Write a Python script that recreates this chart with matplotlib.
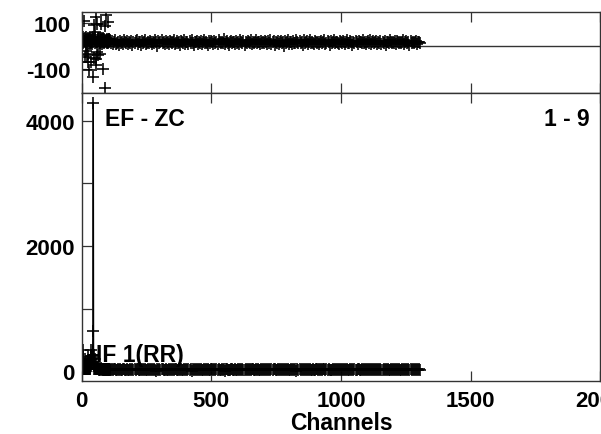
import numpy as np
import matplotlib
matplotlib.use("Agg")
import matplotlib.pyplot as plt
from matplotlib.ticker import FixedLocator, FixedFormatter

# ---------------- data ----------------
# channels 0..109 (one per channel), then the tail sampled every 4 channels from 112
counts_head = [
    30, 28, 35, 25, 40, 32, 337, 38, 27, 45,
    60, 33, 200, 41, 29, 36, 55, 28, 160, 34,
    42, 30, 48, 37, 230, 31, 44, 39, 52, 35,
    180, 40, 33, 47, 58, 90, 337, 120, 190, 150,
    240, 130, 210, 260, 640, 4283, 260, 75, 150, 40,
    190, 35, 52, 44, 120, 38, 30, 47, 33, 41,
    36, 29, 44, 31, 38, 27, 42, 34, 25, 39,
    30, 37, 26, 43, 32, 28, 35, 22, 40, 31,
    27, 36, 24, 33, 29, 38, 21, 30, 26, 34,
    23, 31, 28, 19, 35, 25, 32, 27, 20, 33,
    26, 29, 22, 31, 24, 36, 18, 28, 25, 30,
]
counts_tail = [
    22, 31, 18, 27, 35, 14, 25, 30, 19, 38, 24, 12, 29, 33, 21, 16, 36, 26, 20, 28,
    15, 34, 23, 30, 11, 27, 37, 19, 25, 32, 17, 29, 22, 39, 13, 26, 31, 20, 35, 24,
    28, 18, 33, 21, 9, 30, 25, 36, 16, 27, 34, 22, 12, 31, 26, 19, 38, 23, 29, 14,
    32, 20, 27, 35, 17, 24, 30, 11, 37, 21, 26, 33, 18, 28, 15, 31, 23, 36, 10, 29,
    25, 34, 19, 27, 22, 38, 14, 30, 26, 17, 33, 21, 29, 12, 35, 24, 20, 31, 27, 16,
    36, 23, 28, 13, 32, 25, 19, 34, 21, 30, 8, 27, 37, 22, 26, 15, 33, 29, 18, 24,
    31, 14, 26, 35, 20, 28, 23, 39, 17, 25, 32, 11, 29, 22, 34, 19, 27, 36, 24, 13,
    30, 21, 33, 18, 26, 37, 15, 28, 24, 31, 20, 35, 12, 27, 23, 32, 17, 29, 38, 22,
    19, 34, 25, 30, 16, 27, 21, 36, 13, 29, 24, 33, 20, 26, 39, 18, 31, 23, 28, 10,
    35, 22, 27, 17, 32, 25, 30, 14, 37, 21, 28, 19, 34, 24, 12, 31, 26, 20, 33, 29,
    16, 30, 23, 36, 19, 27, 33, 11, 28, 25, 38, 21, 26, 15, 32, 24, 29, 18, 35, 22,
    27, 13, 31, 24, 34, 20, 29, 17, 36, 23, 26, 32, 14, 30, 21, 37, 25, 19, 28, 33,
    18, 26, 35, 22, 29, 12, 31, 24, 38, 20, 27, 16, 33, 25, 30, 21, 36, 15, 28, 23,
    32, 19, 25, 37, 14, 28, 22, 34, 26, 17, 30, 24, 39, 20, 27, 11, 31, 23, 35, 18,
    26, 33, 21, 29, 16, 36, 24, 30, 13, 27, 22, 35, 19, 28, 25, 32, 17, 31, 24,
]
resid_head = [
    25, 35, 8, -68, 30, 18, 40, 12, 28, 20,
    106, 22, -47, 15, 33, -20, 26, 10, 38, 5,
    -40, 30, 17, -33, 24, 36, -68, 12, 28, -103,
    20, 34, 8, 22, 31, 14, -68, 27, 18, 35,
    10, 25, -132, 30, 16, 38, -50, 21, 29, 88,
    13, 32, 60, 24, 19, 123, -81, -54, 94, 27,
    -25, 15, 33, 20, -40, 28, 11, 36, 22, 17,
    30, -34, 14, 26, 35, 95, 18, 24, 9, 31,
    21, 28, 16, 33, -97, 12, 25, 19, 30, 23,
    86, 15, -178, 27, 131, 20, 11, 29, 17, 24,
    102, 18, 26, 13, 30, 22, 16, 28, 20, 25,
]
resid_tail = [
    12, 20, 7, 16, 24, 10, 14, 19, 5, 22, 13, 17, 9, 26, 15, 11, 21, 8, 18, 14,
    23, 6, 16, 12, 20, 27, 10, 15, 18, 4, 21, 13, 17, 25, 9, 14, 19, 11, 22, 16,
    8, 18, 13, 24, 15, 2, 20, 11, 17, 26, 12, 16, 7, 21, 14, 19, 10, 23, 15, 12,
    17, 25, 9, 14, 21, 11, 18, 6, 22, 15, 13, 27, 10, 19, 16, 8, 20, 14, 24, 12,
    5, 19, 15, 23, 10, 17, 13, 21, 8, 16, 26, 12, 18, 14, 3, 20, 11, 22, 16, 9,
    21, 13, 17, 7, 24, 15, 11, 19, 14, 28, 10, 16, 20, 12, 6, 18, 23, 13, 15, 19,
    10, 22, 14, 18, 9, 25, 16, 12, 20, 4, 17, 13, 21, 15, 11, 24, 8, 19, 14, 17,
    26, 12, 19, 15, 7, 21, 14, 18, 11, 23, 16, 9, 20, 13, 27, 10, 17, 22, 5, 15,
    14, 20, 9, 17, 23, 12, 16, 1, 21, 13, 18, 25, 10, 15, 19, 8, 22, 14, 11, 24,
    16, 11, 21, 14, 18, 6, 24, 13, 17, 20, 9, 15, 26, 12, 19, 14, 10, 23, 16, 13,
    19, 8, 15, 22, 12, 17, 27, 10, 14, 20, 16, 5, 21, 13, 18, 24, 11, 15, 19, 12,
    9, 23, 16, 13, 20, 15, 7, 18, 25, 11, 14, 21, 17, 3, 19, 12, 22, 16, 10, 20,
    15, 18, 11, 24, 14, 19, 10, 16, 22, 13, 26, 8, 17, 20, 12, 15, 23, 9, 18, 14,
    22, 10, 17, 13, 21, 4, 16, 19, 12, 25, 15, 11, 18, 14, 20, 7, 23, 16, 13, 19,
    12, 17, 24, 9, 15, 20, 13, 18, 6, 21, 14, 16, 11, 19, 22, 10, 17, 15, 13,
]

x_ticks = [0, 500, 1000, 1500, 2000]
x_ticklabels = ["0", "500", "1000", "1500", "2000"]
y_ticks = [0, 1000, 2000, 3000, 4000]
y_ticklabels = ["0", "", "2000", "", "4000"]
r_ticks = [-100, 100]
r_ticklabels = ["-100", "100"]
label_left = "EF - ZC"
label_right = "1 - 9"
label_peak = "IF 1(RR)"
x_title = "Channels"

channels = np.concatenate([np.arange(len(counts_head)),
                           112 + 4 * np.arange(len(counts_tail))])
counts = np.array(counts_head + counts_tail)
resid = np.array(resid_head + resid_tail)

# ---------------- style ----------------
plt.rcParams["font.family"] = ["Liberation Sans", "DejaVu Sans"]
plt.rcParams["font.weight"] = "bold"
FS = 16

fig = plt.figure(figsize=(6.01, 4.35), dpi=100)
ax_top = fig.add_axes([0.1358, 0.785, 0.8632, 0.1858])
ax = fig.add_axes([0.1358, 0.1225, 0.8632, 0.6625])

mk = dict(marker="+", markersize=9, markeredgewidth=1.15, color="black")

# top panel: residuals
ax_top.axhline(0, color="#333333", lw=1.0, zorder=1)
ax_top.plot(channels, resid, linestyle="none", **mk, zorder=2)
ax_top.set_xlim(0, 2000)
ax_top.set_ylim(-198, 146)

# bottom panel: spectrum
ax.plot(channels, counts, linestyle="-", lw=1.0, **mk)
ax.set_xlim(0, 2000)
ax.set_ylim(-153, 4450)

for a in (ax_top, ax):
    for s in a.spines.values():
        s.set_color("#333333")
        s.set_linewidth(1.0)
    a.tick_params(direction="in", length=7, width=0.9, color="#333333",
                  top=True, bottom=True, left=True, right=False,
                  labelsize=FS)
    a.xaxis.set_major_locator(FixedLocator(x_ticks))

ax_top.tick_params(labelbottom=False, pad=8)
ax_top.yaxis.set_major_locator(FixedLocator(r_ticks))
ax_top.yaxis.set_major_formatter(FixedFormatter(r_ticklabels))

ax.xaxis.set_major_formatter(FixedFormatter(x_ticklabels))
ax.yaxis.set_major_locator(FixedLocator(y_ticks))
ax.yaxis.set_major_formatter(FixedFormatter(y_ticklabels))
ax.tick_params(axis="x", pad=7)
ax.tick_params(axis="y", pad=5)

ax.set_xlabel(x_title, fontsize=FS + 0.5, fontweight="bold", labelpad=0)

ax.text(0.0451, 0.887, label_left, transform=ax.transAxes, fontsize=FS + 0.5,
        fontweight="bold", ha="left", va="baseline")
ax.text(0.980, 0.887, label_right, transform=ax.transAxes, fontsize=FS + 0.5,
        fontweight="bold", ha="right", va="baseline")
ax.text(0.0278, 0.069, label_peak, transform=ax.transAxes, fontsize=FS + 0.5,
        fontweight="bold", ha="left", va="baseline")

fig.savefig("out.png", dpi=100)
